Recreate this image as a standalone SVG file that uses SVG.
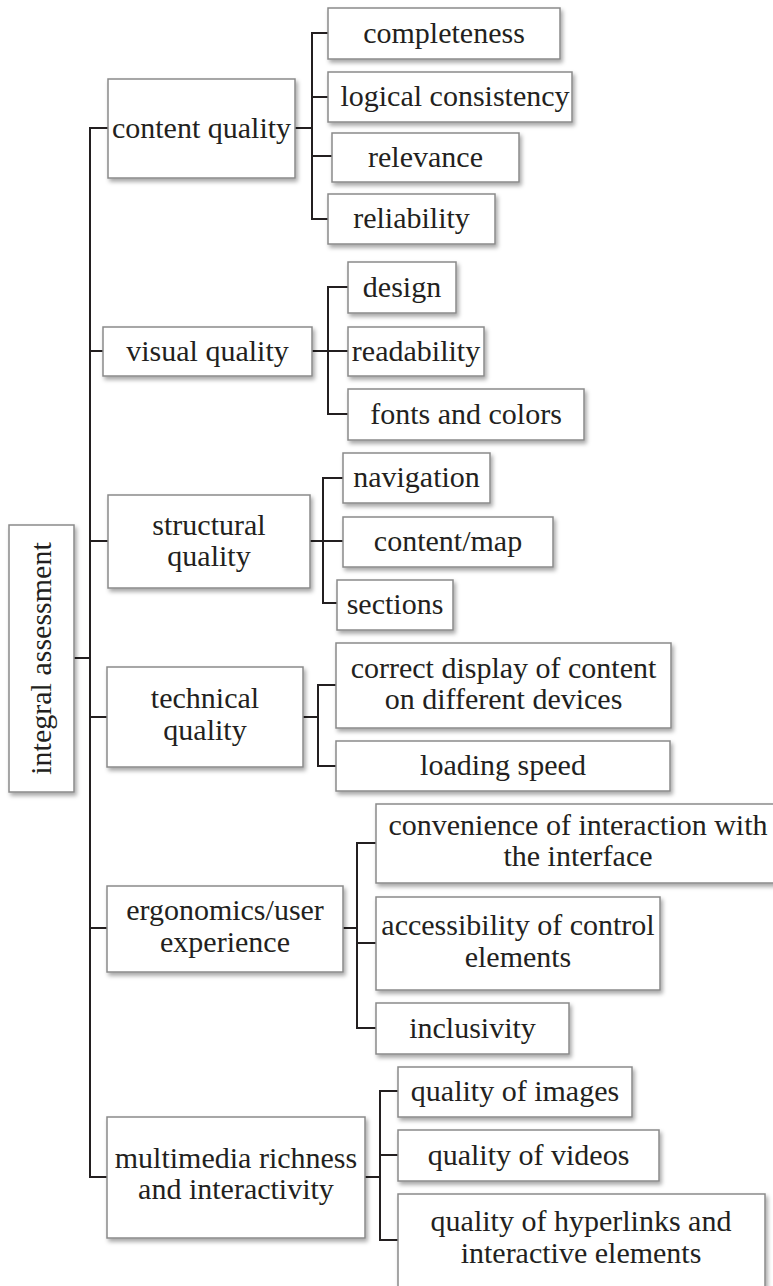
<svg xmlns="http://www.w3.org/2000/svg" width="773" height="1286" viewBox="0 0 773 1286">
  <defs>
    <filter id="shadow" x="-10%" y="-10%" width="130%" height="140%">
      <feDropShadow dx="2" dy="3" stdDeviation="2" flood-color="#000" flood-opacity="0.35"/>
    </filter>
  </defs>
  <style>
    .box { fill: #ffffff; stroke: #8a8a8a; stroke-width: 1.5; filter: url(#shadow); }
    .lbl { font-family: "Liberation Serif", "Times New Roman", serif; font-size: 30px; fill: #231f20; text-anchor: middle; }
    .wire { fill: none; stroke: #231f20; stroke-width: 2; stroke-linejoin: miter; }
  </style>
  <rect width="773" height="1286" fill="#ffffff"/>

  <!-- connectors -->
  <g id="connectors" class="wire">
    <!-- root to trunk -->
    <path d="M74 658 H90"/>
    <!-- trunk with branches to the six categories -->
    <path d="M108 128 H90 V1177 H107"/>
    <path d="M90 351 H103"/>
    <path d="M90 541 H108"/>
    <path d="M90 717 H107"/>
    <path d="M90 928 H107"/>
    <!-- content quality -->
    <path d="M295 128 H312"/>
    <path d="M328 33 H312 V219 H328"/>
    <path d="M312 97 H328"/>
    <path d="M312 156 H332"/>
    <!-- visual quality -->
    <path d="M312 351 H348"/>
    <path d="M348 287 H328 V414 H348"/>
    <!-- structural quality -->
    <path d="M310 541 H343"/>
    <path d="M343 478 H323 V603 H337"/>
    <!-- technical quality -->
    <path d="M303 717 H318"/>
    <path d="M336 685 H318 V766 H336"/>
    <!-- ergonomics/user experience -->
    <path d="M343 928 H357"/>
    <path d="M376 843 H357 V1028 H376"/>
    <path d="M357 943 H376"/>
    <!-- multimedia richness and interactivity -->
    <path d="M365 1177 H380"/>
    <path d="M398 1091 H380 V1240 H398"/>
    <path d="M380 1155 H398"/>
  </g>

  <!-- root -->
  <g id="integral-assessment">
    <rect class="box" x="9" y="525" width="65" height="267"/>
    <text class="lbl" transform="translate(51 658.5) rotate(-90)">integral assessment</text>
  </g>

  <!-- content quality -->
  <g id="content-quality">
    <rect class="box" x="108" y="79" width="187" height="99"/>
    <text class="lbl" x="201.5" y="137.5">content quality</text>
  </g>
  <g id="completeness">
    <rect class="box" x="328" y="8" width="232" height="51"/>
    <text class="lbl" x="444" y="42.5">completeness</text>
  </g>
  <g id="logical-consistency">
    <rect class="box" x="328" y="72" width="244" height="50"/>
    <text class="lbl" x="455" y="106">logical consistency</text>
  </g>
  <g id="relevance">
    <rect class="box" x="332" y="133" width="187" height="49"/>
    <text class="lbl" x="425.5" y="166.5">relevance</text>
  </g>
  <g id="reliability">
    <rect class="box" x="328" y="194" width="167" height="50"/>
    <text class="lbl" x="411.5" y="228">reliability</text>
  </g>

  <!-- visual quality -->
  <g id="visual-quality">
    <rect class="box" x="103" y="327" width="209" height="49"/>
    <text class="lbl" x="207.5" y="360.5">visual quality</text>
  </g>
  <g id="design">
    <rect class="box" x="348" y="262" width="108" height="51"/>
    <text class="lbl" x="402" y="296.5">design</text>
  </g>
  <g id="readability">
    <rect class="box" x="348" y="327" width="136" height="49"/>
    <text class="lbl" x="416" y="360.5">readability</text>
  </g>
  <g id="fonts-and-colors">
    <rect class="box" x="348" y="389" width="236" height="51"/>
    <text class="lbl" x="466" y="423.5">fonts and colors</text>
  </g>

  <!-- structural quality -->
  <g id="structural-quality">
    <rect class="box" x="108" y="495" width="202" height="93"/>
    <text class="lbl" x="209" y="535">structural</text>
    <text class="lbl" x="209" y="566">quality</text>
  </g>
  <g id="navigation">
    <rect class="box" x="343" y="453" width="147" height="50"/>
    <text class="lbl" x="416.5" y="487">navigation</text>
  </g>
  <g id="content-map">
    <rect class="box" x="343" y="517" width="210" height="50"/>
    <text class="lbl" x="448" y="551">content/map</text>
  </g>
  <g id="sections">
    <rect class="box" x="337" y="580" width="116" height="50"/>
    <text class="lbl" x="395" y="614">sections</text>
  </g>

  <!-- technical quality -->
  <g id="technical-quality">
    <rect class="box" x="107" y="667" width="196" height="100"/>
    <text class="lbl" x="205" y="708">technical</text>
    <text class="lbl" x="205" y="740">quality</text>
  </g>
  <g id="correct-display">
    <rect class="box" x="336" y="643" width="335" height="85"/>
    <text class="lbl" x="503.5" y="678">correct display of content</text>
    <text class="lbl" x="503.5" y="709">on different devices</text>
  </g>
  <g id="loading-speed">
    <rect class="box" x="336" y="741" width="334" height="50"/>
    <text class="lbl" x="503" y="775">loading speed</text>
  </g>

  <!-- ergonomics/user experience -->
  <g id="ergonomics">
    <rect class="box" x="107" y="886" width="236" height="86"/>
    <text class="lbl" x="225" y="920">ergonomics/user</text>
    <text class="lbl" x="225" y="952">experience</text>
  </g>
  <g id="convenience">
    <rect class="box" x="376" y="804" width="404" height="79"/>
    <text class="lbl" x="578" y="835">convenience of interaction with</text>
    <text class="lbl" x="578" y="866">the interface</text>
  </g>
  <g id="accessibility">
    <rect class="box" x="376" y="897" width="284" height="93"/>
    <text class="lbl" x="518" y="935">accessibility of control</text>
    <text class="lbl" x="518" y="967">elements</text>
  </g>
  <g id="inclusivity">
    <rect class="box" x="376" y="1003" width="193" height="51"/>
    <text class="lbl" x="472.5" y="1037.5">inclusivity</text>
  </g>

  <!-- multimedia richness and interactivity -->
  <g id="multimedia">
    <rect class="box" x="107" y="1117" width="258" height="121"/>
    <text class="lbl" x="236" y="1168">multimedia richness</text>
    <text class="lbl" x="236" y="1199">and interactivity</text>
  </g>
  <g id="quality-of-images">
    <rect class="box" x="398" y="1067" width="234" height="50"/>
    <text class="lbl" x="515" y="1101">quality of images</text>
  </g>
  <g id="quality-of-videos">
    <rect class="box" x="398" y="1130" width="261" height="51"/>
    <text class="lbl" x="528.5" y="1164.5">quality of videos</text>
  </g>
  <g id="quality-of-hyperlinks">
    <rect class="box" x="398" y="1194" width="367" height="110"/>
    <text class="lbl" x="581" y="1231">quality of hyperlinks and</text>
    <text class="lbl" x="581" y="1263">interactive elements</text>
  </g>
</svg>
